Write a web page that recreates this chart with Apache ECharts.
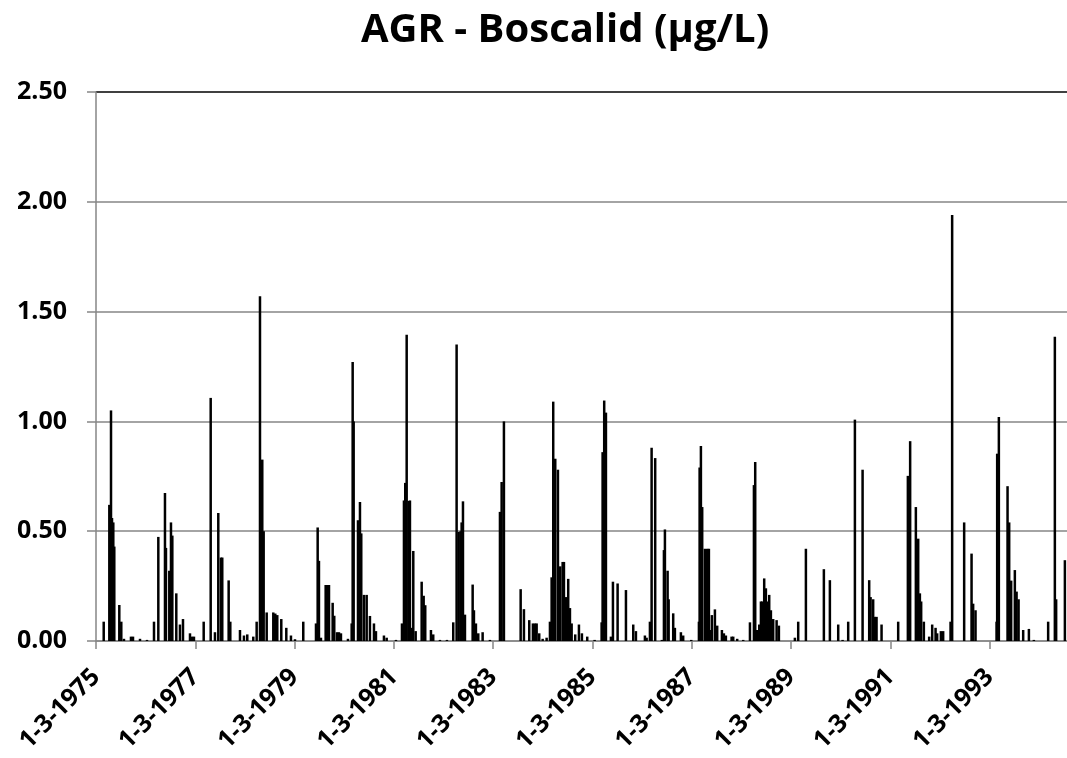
<!DOCTYPE html>
<html>
<head>
<meta charset="utf-8">
<script src="https://cdn.jsdelivr.net/npm/echarts@6/dist/echarts.min.js"></script>
<style>
html,body{margin:0;padding:0;background:#fff;}
#chart{width:1067px;height:758px;}
</style>
</head>
<body>
<div id="chart"></div>
<script>
// Sample dates as decimal years
var sampleYears = [
1975.322,1975.435,1975.469,1975.489,1975.515,1975.535,1975.636,1975.676,1975.730,1975.871,1975.912,
1976.053,1976.194,1976.335,1976.422,1976.556,1976.576,1976.643,1976.677,1976.704,1976.784,1976.858,1976.919,
1977.060,1977.100,1977.140,1977.336,1977.477,1977.563,1977.630,1977.684,1977.710,1977.839,1977.872,
1978.067,1978.147,1978.214,1978.335,1978.403,1978.470,1978.490,1978.516,1978.544,1978.605,1978.738,1978.778,1978.818,1978.899,
1979.000,1979.094,1979.175,1979.342,1979.598,1979.632,1979.658,1979.698,1979.793,1979.825,1979.860,1979.934,1979.966,
1980.021,1980.061,1980.101,1980.242,1980.317,1980.337,1980.357,1980.444,1980.484,1980.510,1980.564,1980.619,1980.685,1980.766,1980.806,1980.967,
1981.022,1981.209,1981.330,1981.370,1981.396,1981.425,1981.465,1981.491,1981.525,1981.558,1981.606,1981.727,1981.767,1981.799,1981.914,1981.960,
1982.095,1982.236,1982.363,1982.431,1982.472,1982.512,1982.532,1982.559,1982.599,1982.754,1982.780,1982.820,1982.867,1982.955,
1983.102,1983.304,1983.338,1983.384,1983.721,1983.787,1983.894,1983.968,
1984.009,1984.043,1984.095,1984.164,1984.244,1984.311,1984.345,1984.377,1984.418,1984.472,1984.518,1984.567,1984.593,1984.633,1984.679,1984.714,1984.748,1984.820,1984.895,1984.955,
1985.062,1985.211,1985.352,1985.372,1985.404,1985.439,1985.539,1985.580,1985.674,1985.842,1985.989,
1986.043,1986.224,1986.258,1986.325,1986.359,1986.431,1986.566,1986.607,1986.627,1986.681,1986.702,1986.794,1986.828,1986.949,1986.995,
1987.157,1987.312,1987.326,1987.352,1987.378,1987.432,1987.479,1987.513,1987.533,1987.573,1987.634,1987.680,1987.775,1987.815,1987.855,1987.970,
1988.003,1988.083,1988.204,1988.340,1988.420,1988.446,1988.486,1988.527,1988.561,1988.587,1988.627,1988.661,1988.695,1988.728,1988.762,1988.808,1988.877,1988.923,
1989.245,1989.312,1989.467,1989.829,1989.950,
1990.118,1990.206,1990.319,1990.454,1990.609,1990.742,1990.770,1990.822,1990.856,1990.890,1990.991,
1991.326,1991.521,1991.567,1991.682,1991.729,1991.763,1991.789,1991.843,1991.950,
1992.011,1992.079,1992.111,1992.186,1992.232,1992.381,1992.413,1992.655,1992.804,1992.836,1992.884,
1993.308,1993.320,1993.354,1993.529,1993.562,1993.602,1993.676,1993.711,1993.751,1993.844,1993.959,
1994.059,1994.347,1994.482,1994.508,1994.684
];
// Boscalid concentration (ug/L)
var concentrations = [
0.088,0.62,1.05,0.56,0.54,0.43,0.164,0.088,0.01,0.02,0.02,
0.01,0.005,0.088,0.474,0.674,0.424,0.32,0.54,0.48,0.217,0.075,0.10,
0.035,0.02,0.02,0.088,1.107,0.04,0.583,0.38,0.38,0.276,0.088,
0.05,0.025,0.03,0.02,0.088,1.57,0.72,0.826,0.50,0.13,0.13,0.125,0.118,0.10,
0.06,0.025,0.008,0.088,0.08,0.517,0.365,0.015,0.255,0.255,0.255,0.174,0.115,
0.04,0.04,0.035,0.01,0.08,1.27,1.0,0.55,0.633,0.49,0.21,0.21,0.114,0.08,0.045,0.025,
0.015,0.005,0.08,0.64,0.72,1.395,0.638,0.64,0.06,0.41,0.045,0.27,0.206,0.163,0.05,0.03,
0.005,0.005,0.085,1.35,0.497,0.50,0.54,0.636,0.12,0.257,0.14,0.08,0.035,0.04,
0.005,0.588,0.724,1.0,0.236,0.145,0.095,0.08,
0.08,0.08,0.035,0.01,0.015,0.088,0.29,1.09,0.83,0.78,0.34,0.36,0.36,0.2,0.283,0.15,0.08,0.03,0.075,0.035,
0.02,0.005,0.085,0.86,1.095,1.04,0.02,0.27,0.262,0.232,0.075,
0.045,0.025,0.015,0.088,0.88,0.833,0.005,0.414,0.508,0.32,0.19,0.126,0.06,0.04,0.025,
0.005,0.088,0.79,0.888,0.61,0.42,0.42,0.42,0.05,0.118,0.144,0.07,0.05,0.035,0.025,0.02,
0.02,0.01,0.005,0.085,0.71,0.815,0.05,0.075,0.18,0.18,0.285,0.24,0.18,0.21,0.14,0.10,0.095,0.07,
0.015,0.088,0.42,0.327,0.277,
0.075,0.005,0.088,1.008,0.78,0.277,0.2,0.19,0.11,0.11,0.075,
0.088,0.752,0.91,0.61,0.466,0.217,0.18,0.088,0.02,
0.075,0.06,0.035,0.045,0.045,0.088,1.94,0.54,0.398,0.17,0.14,
0.088,0.853,1.02,0.705,0.54,0.275,0.323,0.225,0.19,0.05,0.055,
0.005,0.088,1.386,0.19,0.368
];
var tickLabels = ['1-3-1975','1-3-1977','1-3-1979','1-3-1981','1-3-1983','1-3-1985','1-3-1987','1-3-1989','1-3-1991','1-3-1993'];

var START = 1975 + 2/12; // 1 March 1975
var data = sampleYears.map(function(y, i){ return [y - START, concentrations[i]]; });

var chart = echarts.init(document.getElementById('chart'));
var FONT = '"Open Sans", sans-serif';
chart.setOption({
  animation: false,
  backgroundColor: '#fff',
  title: {
    text: 'AGR - Boscalid (μg/L)',
    left: 356,
    top: 6,
    textStyle: {fontFamily: FONT, fontWeight: 'bold', fontSize: 40, color: '#000'}
  },
  grid: {left: 96, right: 0, top: 92, bottom: 117, containLabel: false},
  xAxis: {
    type: 'value',
    min: 0,
    max: 19.56,
    interval: 2,
    axisLine: {show: true, lineStyle: {color: '#868686', width: 1.5}},
    axisTick: {show: true, length: 8, lineStyle: {color: '#868686', width: 1.5}},
    splitLine: {show: false},
    axisLabel: {
      rotate: 45,
      margin: 32,
      showMaxLabel: false,
      fontFamily: FONT, fontWeight: 'bold', fontSize: 25, color: '#000',
      formatter: function(v){
        var k = Math.round(v / 2);
        return (Math.abs(v - k*2) < 1e-6 && tickLabels[k]) ? tickLabels[k] : '';
      }
    }
  },
  yAxis: {
    type: 'value',
    min: 0,
    max: 2.5,
    interval: 0.5,
    axisLine: {show: true, lineStyle: {color: '#868686', width: 1.5}},
    axisTick: {show: true, length: 9, lineStyle: {color: '#868686', width: 1.5}},
    splitLine: {show: true, lineStyle: {color: ['#868686','#868686','#868686','#868686','#868686','#000'], width: 1.5}},
    axisLabel: {
      margin: 29,
      fontFamily: FONT, fontWeight: 'bold', fontSize: 25, color: '#000',
      formatter: function(v){ return v.toFixed(2); }
    }
  },
  series: [{
    type: 'bar',
    data: data,
    barWidth: 2.5,
    itemStyle: {color: '#000'}
  }]
});
</script>
</body>
</html>
